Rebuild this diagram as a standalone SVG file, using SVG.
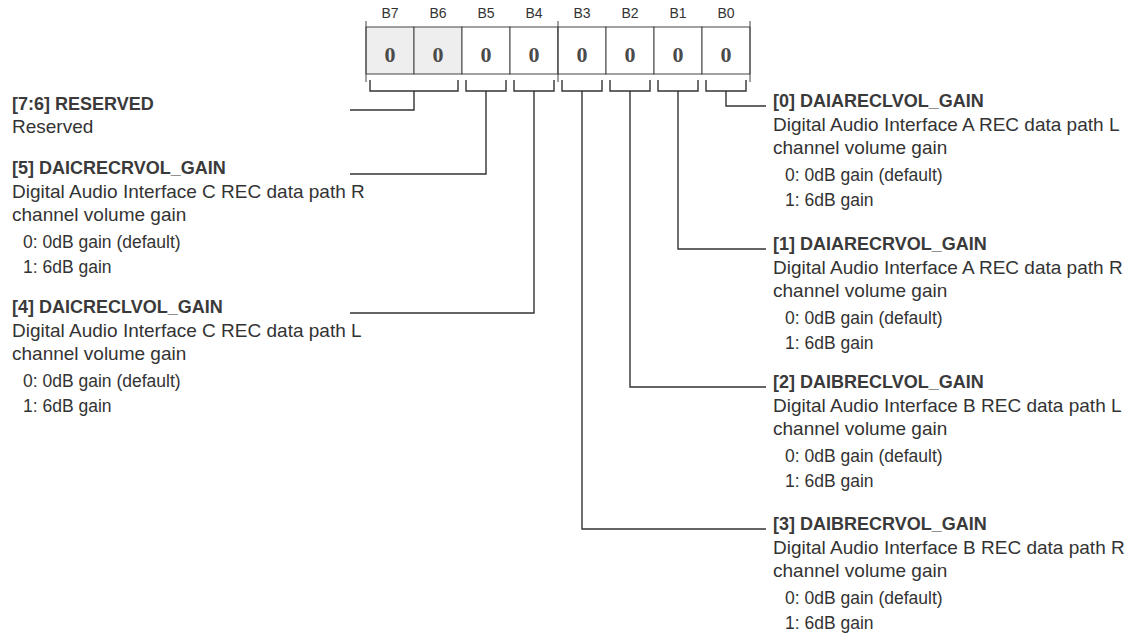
<svg xmlns="http://www.w3.org/2000/svg" width="1138" height="634" viewBox="0 0 1138 634">
<style>
.bg{fill:#ffffff}
.bl{font-family:"Liberation Sans",Arial,sans-serif;font-size:14px;fill:#333;text-anchor:middle}
.cell{fill:#ffffff;stroke:#444;stroke-width:1}
.rsv{fill:#eeeeee}
.val{font-family:"Liberation Serif","Times New Roman",serif;font-weight:bold;font-size:22px;fill:#4a4a4a;text-anchor:middle}
.ln{fill:none;stroke:#333;stroke-width:1.4}
.tk{fill:none;stroke:#444;stroke-width:1}
.hd{font-family:"Liberation Sans",Arial,sans-serif;font-weight:bold;font-size:18px;fill:#3a3a3a}
.ds{font-family:"Liberation Sans",Arial,sans-serif;font-size:19px;fill:#333}
.op{font-family:"Liberation Sans",Arial,sans-serif;font-size:17.5px;fill:#333}
</style>
<rect class="bg" x="0" y="0" width="1138" height="634"/>
<g id="register">
  <g id="bit-labels">
    <text class="bl" x="390" y="18">B7</text>
    <text class="bl" x="438" y="18">B6</text>
    <text class="bl" x="486" y="18">B5</text>
    <text class="bl" x="534" y="18">B4</text>
    <text class="bl" x="582" y="18">B3</text>
    <text class="bl" x="630" y="18">B2</text>
    <text class="bl" x="678" y="18">B1</text>
    <text class="bl" x="726" y="18">B0</text>
  </g>
  <rect class="cell rsv" x="366" y="27" width="48" height="47"/>
  <rect class="cell rsv" x="414" y="27" width="48" height="47"/>
  <rect class="cell" x="462" y="27" width="48" height="47"/>
  <rect class="cell" x="510" y="27" width="48" height="47"/>
  <rect class="cell" x="558" y="27" width="48" height="47"/>
  <rect class="cell" x="606" y="27" width="48" height="47"/>
  <rect class="cell" x="654" y="27" width="48" height="47"/>
  <rect class="cell" x="702" y="27" width="48" height="47"/>
  <path class="tk" d="M366 21V82M558 21V82M750 21V82"/>
  <g id="values">
    <text class="val" x="390" y="62">0</text>
    <text class="val" x="438" y="62">0</text>
    <text class="val" x="486" y="62">0</text>
    <text class="val" x="534" y="62">0</text>
    <text class="val" x="582" y="62">0</text>
    <text class="val" x="630" y="62">0</text>
    <text class="val" x="678" y="62">0</text>
    <text class="val" x="726" y="62">0</text>
  </g>
</g>
<g id="connectors">
  <path class="ln" d="M370 80V91H458V80M466 80V91H506V80M514 80V91H554V80M562 80V91H602V80M610 80V91H650V80M658 80V91H698V80M706 80V91H746V80"/>
  <path class="ln" d="M414 91V110H350"/>
  <path class="ln" d="M486 91V174H350"/>
  <path class="ln" d="M534 91V313H350"/>
  <path class="ln" d="M726 91V106H766"/>
  <path class="ln" d="M678 91V249H766"/>
  <path class="ln" d="M630 91V387H766"/>
  <path class="ln" d="M582 91V529H766"/>
</g>
<g id="field-7-6">
  <text class="hd" x="12" y="110">[7:6] RESERVED</text>
  <text class="ds" x="12" y="133">Reserved</text>
</g>
<g id="field-5">
  <text class="hd" x="12" y="174">[5] DAICRECRVOL_GAIN</text>
  <text class="ds" x="12" y="198">Digital Audio Interface C REC data path R</text>
  <text class="ds" x="12" y="221">channel volume gain</text>
  <text class="op" x="23" y="248">0: 0dB gain (default)</text>
  <text class="op" x="23" y="273">1: 6dB gain</text>
</g>
<g id="field-4">
  <text class="hd" x="12" y="313">[4] DAICRECLVOL_GAIN</text>
  <text class="ds" x="12" y="337">Digital Audio Interface C REC data path L</text>
  <text class="ds" x="12" y="360">channel volume gain</text>
  <text class="op" x="23" y="387">0: 0dB gain (default)</text>
  <text class="op" x="23" y="412">1: 6dB gain</text>
</g>
<g id="field-0">
  <text class="hd" x="773" y="107">[0] DAIARECLVOL_GAIN</text>
  <text class="ds" x="773" y="131">Digital Audio Interface A REC data path L</text>
  <text class="ds" x="773" y="154">channel volume gain</text>
  <text class="op" x="785" y="181">0: 0dB gain (default)</text>
  <text class="op" x="785" y="206">1: 6dB gain</text>
</g>
<g id="field-1">
  <text class="hd" x="773" y="250">[1] DAIARECRVOL_GAIN</text>
  <text class="ds" x="773" y="274">Digital Audio Interface A REC data path R</text>
  <text class="ds" x="773" y="297">channel volume gain</text>
  <text class="op" x="785" y="324">0: 0dB gain (default)</text>
  <text class="op" x="785" y="349">1: 6dB gain</text>
</g>
<g id="field-2">
  <text class="hd" x="773" y="388">[2] DAIBRECLVOL_GAIN</text>
  <text class="ds" x="773" y="412">Digital Audio Interface B REC data path L</text>
  <text class="ds" x="773" y="435">channel volume gain</text>
  <text class="op" x="785" y="462">0: 0dB gain (default)</text>
  <text class="op" x="785" y="487">1: 6dB gain</text>
</g>
<g id="field-3">
  <text class="hd" x="773" y="530">[3] DAIBRECRVOL_GAIN</text>
  <text class="ds" x="773" y="554">Digital Audio Interface B REC data path R</text>
  <text class="ds" x="773" y="577">channel volume gain</text>
  <text class="op" x="785" y="604">0: 0dB gain (default)</text>
  <text class="op" x="785" y="629">1: 6dB gain</text>
</g>
</svg>
